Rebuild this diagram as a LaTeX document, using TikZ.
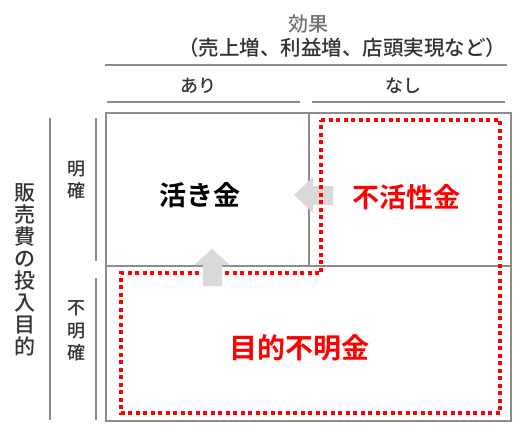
\documentclass[tikz,border=0pt]{standalone}
\usepackage{fontspec}
\setmainfont{Noto Sans CJK JP}[UprightFont=* Medium, BoldFont=* Bold]
\begin{document}
\begin{tikzpicture}[x=1pt, y=-1pt, every node/.style={inner sep=0pt, text=black!80},
	rule/.style={draw=black!45, line width=1.3pt},
	cell/.style={draw=black!45, line width=1.5pt},
	tag/.style={font=\fontsize{18}{20}\selectfont},
	vtag/.style={align=center, font=\fontsize{18}{22.5}\selectfont},
	big/.style={font=\fontsize{27}{30}\selectfont\bfseries},
	blockarrow/.style={fill=black!15},
	budget/.style={draw=red, line width=4pt, dash pattern=on 4pt off 3.5pt}]
	\useasboundingbox (0,0) rectangle (525,440);
	% header
	\node[text=black!55, font=\fontsize{20}{22}\selectfont] (eff) at (308,24) {効果};
	\node[tag, font=\fontsize{20.5}{22}\selectfont] (effnote) at (342,48) {（売上増、利益増、店頭実現など）};
	\draw[rule] (105,65) -- (507,65);
	\node[tag] (yes) at (198,86) {あり};
	\node[tag] (no) at (403,86) {なし};
	\draw[rule] (107,102) -- (300,102);
	\draw[rule] (312,102) -- (505,102);
	% side
	\node[vtag, font=\fontsize{21}{22}\selectfont] (aim) at (25,270) {販\\売\\費\\の\\投\\入\\目\\的};
	\draw[rule] (50,118) -- (50,420);
	\node[vtag] (clear) at (76,180) {明\\確};
	\node[vtag] (unclear) at (76,331) {不\\明\\確};
	\draw[rule] (96,118) -- (96,261);
	\draw[rule] (96,278) -- (96,420);
	% grid
	\draw[cell] (106,113) rectangle (511,421);
	\draw[cell] (309,113) -- (309,266);
	\draw[cell] (106,266) -- (511,266);
	% arrows
	\fill[blockarrow] (333,186) -- (313,186) -- (313,177) -- (294,195) -- (313,213) -- (313,205) -- (333,205) -- cycle;
	\draw[budget] (321,120) -- (500,120) -- (500,413) -- (121,413) -- (121,273) -- (321,273) -- cycle;
	\fill[blockarrow] (203,286) -- (203,265) -- (194,265) -- (212,249) -- (230,265) -- (222,265) -- (222,286) -- cycle;
	% labels
	\node[big, text=black] (live) at (200,195) {活き金};
	\node[big, text=red] (idle) at (406,197) {不活性金};
	\node[big, text=red, font=\fontsize{28}{30}\selectfont\bfseries] (vague) at (299,348) {目的不明金};
\end{tikzpicture}
\end{document}
